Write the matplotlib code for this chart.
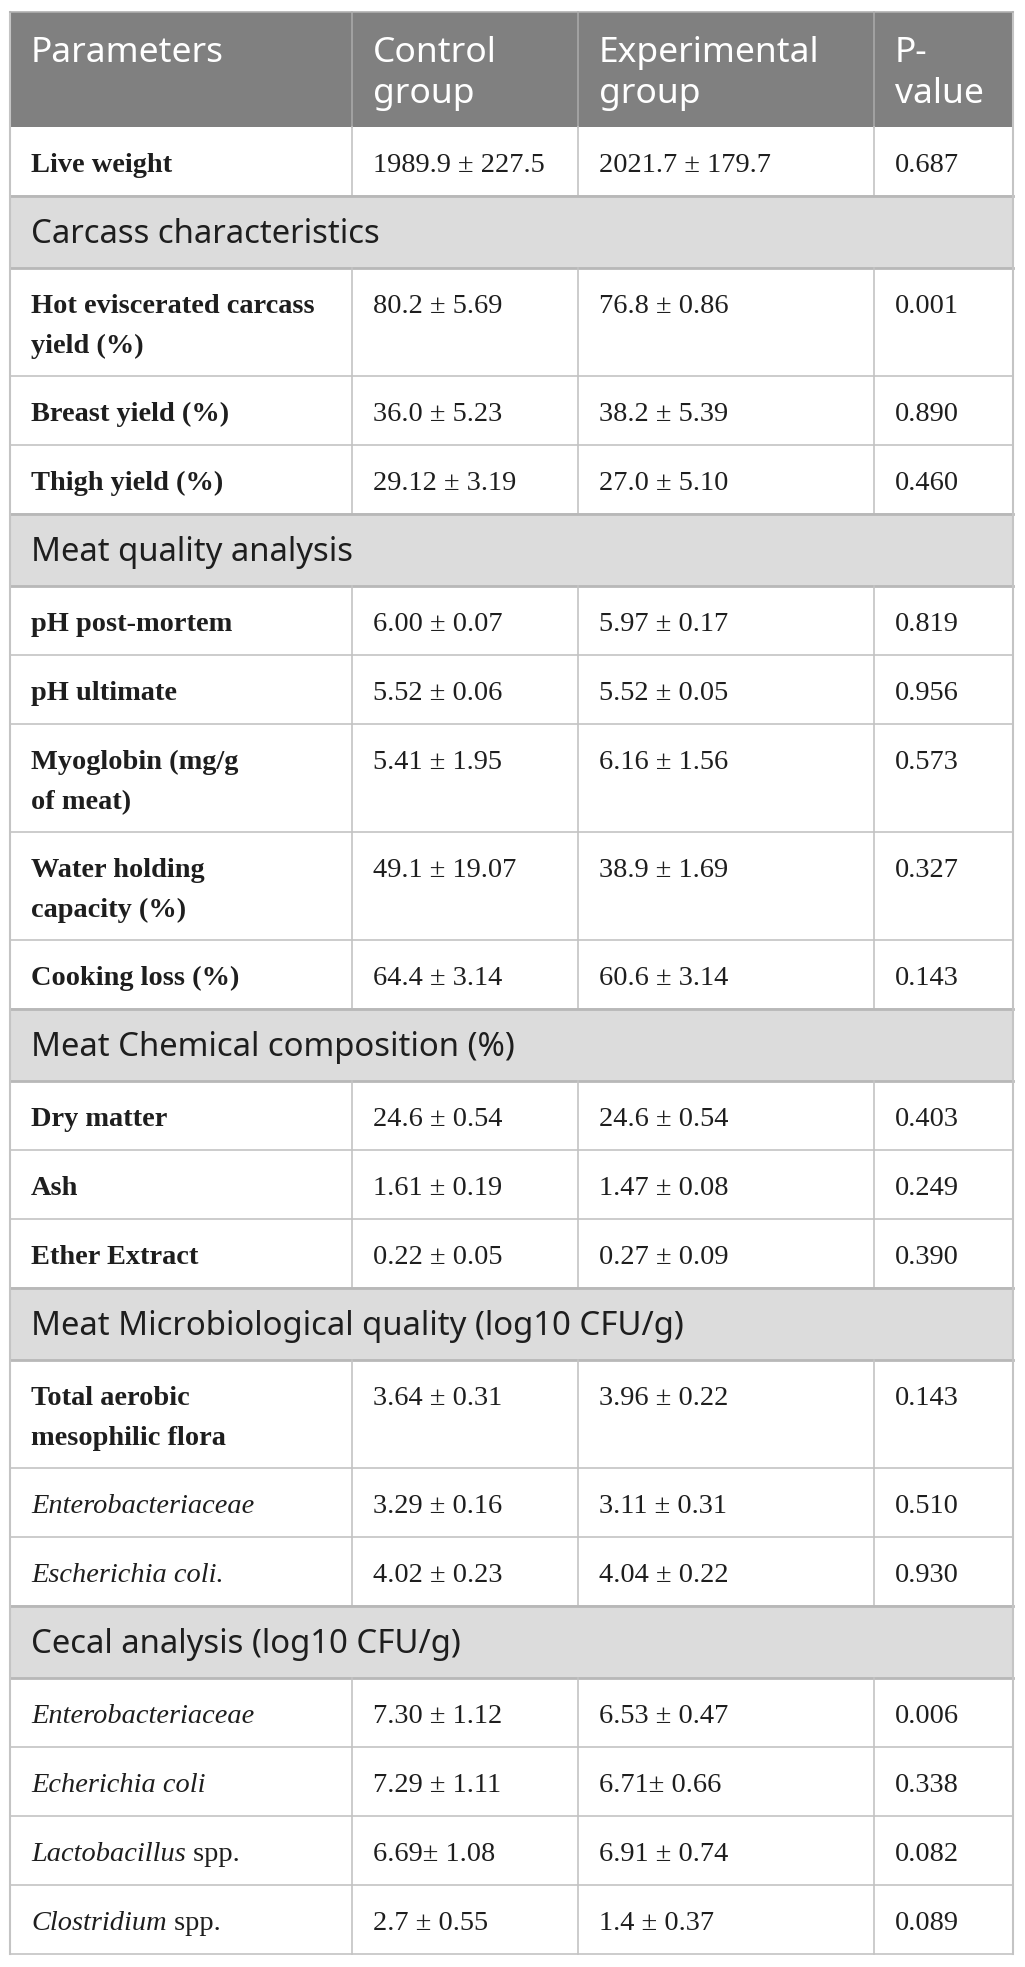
import matplotlib
matplotlib.use("Agg")
import matplotlib.pyplot as plt
from matplotlib.patches import Rectangle

# ---- table content ----
headers = ["Parameters", "Control\ngroup", "Experimental\ngroup", "P-\nvalue"]

row_labels = [
    "Live weight",
    "Carcass characteristics",
    "Hot eviscerated carcass\nyield (%)",
    "Breast yield (%)",
    "Thigh yield (%)",
    "Meat quality analysis",
    "pH post-mortem",
    "pH ultimate",
    "Myoglobin (mg/g\nof meat)",
    "Water holding\ncapacity (%)",
    "Cooking loss (%)",
    "Meat Chemical composition (%)",
    "Dry matter",
    "Ash",
    "Ether Extract",
    "Meat Microbiological quality (log10 CFU/g)",
    "Total aerobic\nmesophilic flora",
    "Enterobacteriaceae",
    "Escherichia coli.",
    "Cecal analysis (log10 CFU/g)",
    "Enterobacteriaceae",
    "Echerichia coli",
    "Lactobacillus",
    "Clostridium",
]
# 's' section, 'b' bold, 'i' italic, 'g' italic genus + " spp."
row_kind = ["b", "s", "b", "b", "b", "s", "b", "b", "b", "b", "b", "s",
            "b", "b", "b", "s", "b", "i", "i", "s", "i", "i", "g", "g"]

control = ["1989.9 ± 227.5", None, "80.2 ± 5.69", "36.0 ± 5.23", "29.12 ± 3.19",
           None, "6.00 ± 0.07", "5.52 ± 0.06", "5.41 ± 1.95", "49.1 ± 19.07",
           "64.4 ± 3.14", None, "24.6 ± 0.54", "1.61 ± 0.19", "0.22 ± 0.05",
           None, "3.64 ± 0.31", "3.29 ± 0.16", "4.02 ± 0.23", None,
           "7.30 ± 1.12", "7.29 ± 1.11", "6.69± 1.08", "2.7 ± 0.55"]
experimental = ["2021.7 ± 179.7", None, "76.8 ± 0.86", "38.2 ± 5.39", "27.0 ± 5.10",
                None, "5.97 ± 0.17", "5.52 ± 0.05", "6.16 ± 1.56", "38.9 ± 1.69",
                "60.6 ± 3.14", None, "24.6 ± 0.54", "1.47 ± 0.08", "0.27 ± 0.09",
                None, "3.96 ± 0.22", "3.11 ± 0.31", "4.04 ± 0.22", None,
                "6.53 ± 0.47", "6.71± 0.66", "6.91 ± 0.74", "1.4 ± 0.37"]
p_values = ["0.687", None, "0.001", "0.890", "0.460", None, "0.819", "0.956",
            "0.573", "0.327", "0.143", None, "0.403", "0.249", "0.390", None,
            "0.143", "0.510", "0.930", None, "0.006", "0.338", "0.082", "0.089"]

# ---- layout (pixels) ----
W, H = 1025, 1967
col_x = [10, 352, 578, 874, 1013]
top = 12
header_h = 115
single_h, double_h, section_h = 69, 108, 72
pad_x = 21

HEAD_BG = "#808080"
SEC_BG = "#dcdcdc"
LINE = "#c4c4c4"
TXT = "#1e1e1e"
SANS = "Noto Sans"
SERIF = "Liberation Serif"
BODY_FS = 20.4

fig = plt.figure(figsize=(W / 100, H / 100), dpi=100)
ax = fig.add_axes([0, 0, 1, 1])
ax.set_xlim(0, W)
ax.set_ylim(H, 0)
ax.axis("off")
renderer = fig.canvas.get_renderer()


def put_lines(x, y0, text, step, **kw):
    """Draw a multi-line string line by line, first baseline at y0."""
    out = []
    for k, line in enumerate(text.split("\n")):
        out.append(ax.text(x, y0 + k * step, line, va="baseline", ha="left", **kw))
    return out


# header
ax.add_patch(Rectangle((col_x[0], top), col_x[-1] - col_x[0], header_h,
                       facecolor=HEAD_BG, edgecolor="none"))
for x in col_x[1:-1]:
    ax.plot([x, x], [top, top + header_h], color="#a8a8a8", lw=1.2)
for i, h in enumerate(headers):
    put_lines(col_x[i] + pad_x, top + 50, h, 41, family=SANS, fontsize=25.5,
              color="white")

y = top + header_h
for i, lab in enumerate(row_labels):
    kind = row_kind[i]
    if kind == "s":
        rh = section_h
        ax.add_patch(Rectangle((col_x[0], y), col_x[-1] - col_x[0], rh,
                               facecolor=SEC_BG, edgecolor="none"))
        ax.text(col_x[0] + pad_x, y + 47, lab, family=SANS, fontsize=23.7,
                color=TXT, va="baseline", ha="left")
        ax.plot([col_x[0], col_x[-1]], [y, y], color="#b8b8b8", lw=2)
        ax.plot([col_x[0], col_x[-1]], [y + rh, y + rh], color="#b8b8b8", lw=2)
    else:
        rh = double_h if "\n" in lab else single_h
        base = y + 45
        style = "italic" if kind in ("i", "g") else "normal"
        weight = "bold" if kind == "b" else "normal"
        ts = put_lines(col_x[0] + pad_x, base, lab, 40, family=SERIF,
                       fontsize=BODY_FS, fontstyle=style, fontweight=weight,
                       color=TXT)
        if kind == "g":
            bb = ts[0].get_window_extent(renderer)
            ax.text(bb.x1, base, " spp.", family=SERIF, fontsize=BODY_FS,
                    color=TXT, va="baseline", ha="left")
        for j, vals in enumerate((control, experimental, p_values)):
            ax.text(col_x[j + 1] + pad_x, base, vals[i], family=SERIF,
                    fontsize=BODY_FS, color=TXT, va="baseline", ha="left")
        for x in col_x[1:-1]:
            ax.plot([x, x], [y, y + rh], color=LINE, lw=1.2)
        ax.plot([col_x[0], col_x[-1]], [y + rh, y + rh], color=LINE, lw=1.2)
    y += rh

# outer border
ax.plot([col_x[0], col_x[0]], [top, y], color=LINE, lw=1.5)
ax.plot([col_x[-1], col_x[-1]], [top, y], color=LINE, lw=1.5)
ax.plot([col_x[0], col_x[-1]], [top, top], color="#b0b0b0", lw=1.2)

fig.savefig("out.png", dpi=100, facecolor="white")
